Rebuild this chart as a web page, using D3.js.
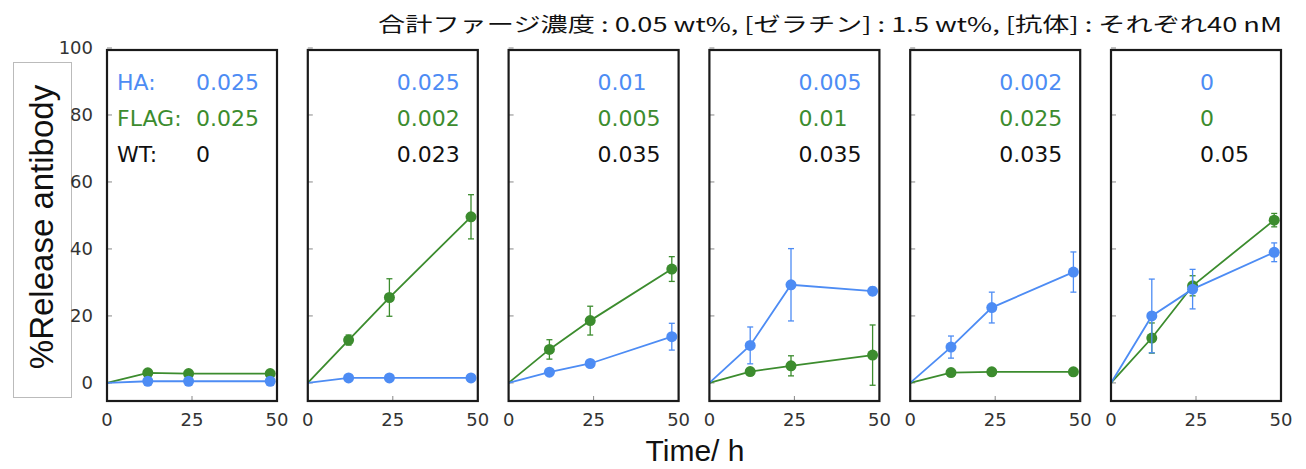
<!DOCTYPE html>
<html>
<head>
<meta charset="utf-8">
<script src="https://cdn.jsdelivr.net/npm/d3@7"></script>
<style>
  body { margin: 0; background: #fff; }
  svg { display: block; }
</style>
</head>
<body>
<script>
const svgW = 1306;
const svgH = 469;

// data
const times = [0, 12, 24, 48];
const haMeans = [
  [0, 0.5, 0.5, 0.5],
  [0, 1.5, 1.5, 1.5],
  [0, 3.2, 5.8, 13.8],
  [0, 11.2, 29.3, 27.4],
  [0, 10.7, 22.5, 33.1],
  [0, 20, 28, 39]
];
const haErr = [
  [0, 0.3, 0.3, 0.3],
  [0, 0.4, 0.4, 0.4],
  [0, 0.6, 0.6, 4],
  [0, 5.5, 10.8, 1.2],
  [0, 3.3, 4.6, 6],
  [0, 11, 5.9, 2.8]
];
const flagMeans = [
  [0, 3, 2.8, 2.8],
  [0, 12.8, 25.5, 49.6],
  [0, 10, 18.6, 34],
  [0, 3.4, 5.1, 8.3],
  [0, 3.1, 3.3, 3.3],
  [0, 13.4, 29, 48.6]
];
const flagErr = [
  [0, 0.5, 0.5, 0.5],
  [0, 1.5, 5.6, 6.6],
  [0, 2.9, 4.3, 3.7],
  [0, 0.6, 3, 9],
  [0, 0.5, 0.4, 0.4],
  [0, 4.5, 3, 2]
];
const haLabels = ['0.025', '0.025', '0.01', '0.005', '0.002', '0'];
const flagLabels = ['0.025', '0.002', '0.005', '0.01', '0.025', '0'];
const wtLabels = ['0', '0.023', '0.035', '0.035', '0.035', '0.05'];
const yTicks = [0, 20, 40, 60, 80, 100];
const xTicks = [0, 25, 50];

const blue = '#4d8cf4';
const green = '#3c8c2e';

const panelW = 170;
const panelH = 351;
const panelTop = 50;
const panelLeft0 = 107;
const panelStep = 200.8;

const svg = d3.select('body')
              .append('svg')
              .attr('width', svgW)
              .attr('height', svgH);

const x = d3.scaleLinear().domain([0, 50]).range([0, panelW]);
const y = d3.scaleLinear().domain([-5.4, 99.4]).range([panelH, 0]);

// title
svg.append('text')
   .attr('x', 378)
   .attr('y', 32)
   .attr('font-family', '"Noto Sans CJK JP", sans-serif')
   .attr('font-size', 20)
   .attr('textLength', 904)
   .attr('lengthAdjust', 'spacingAndGlyphs')
   .attr('fill', '#111')
   .text('合計ファージ濃度 : 0.05 wt%, [ゼラチン] : 1.5 wt%, [抗体] : それぞれ40 nM');

// y axis title box
svg.append('rect')
   .attr('x', 13.5).attr('y', 62.5)
   .attr('width', 58).attr('height', 335)
   .attr('fill', 'none')
   .attr('stroke', '#bbb')
   .attr('stroke-width', 1);
svg.append('text')
   .attr('transform', 'translate(53, 227) rotate(-90)')
   .attr('text-anchor', 'middle')
   .attr('font-family', '"Liberation Sans", Arial, sans-serif')
   .attr('font-size', 33)
   .attr('fill', '#111')
   .text('%Release antibody');

// x axis title
svg.append('text')
   .attr('x', 695)
   .attr('y', 461)
   .attr('text-anchor', 'middle')
   .attr('font-family', '"Liberation Sans", Arial, sans-serif')
   .attr('font-size', 30)
   .attr('fill', '#111')
   .text('Time/ h');

// y tick labels
svg.append('g')
   .selectAll('text')
   .data(yTicks)
   .enter()
   .append('text')
   .attr('x', 93)
   .attr('y', d => panelTop + y(d) + 6)
   .attr('text-anchor', 'end')
   .attr('font-family', '"DejaVu Sans", sans-serif')
   .attr('font-size', 18)
   .attr('fill', '#333')
   .text(d => d);

const line = d3.line()
               .x((d, i) => x(times[i]))
               .y(d => y(d));

const panels = d3.range(6);

panels.forEach(p => {
  const g = svg.append('g')
               .attr('transform', `translate(${panelLeft0 + p * panelStep}, ${panelTop})`);

  // ticks inside the frame
  g.selectAll('.yt')
   .data(yTicks)
   .enter()
   .append('line')
   .attr('x1', 0).attr('x2', 5)
   .attr('y1', d => y(d)).attr('y2', d => y(d))
   .attr('stroke', '#888').attr('stroke-width', 1);
  g.selectAll('.xt')
   .data(xTicks)
   .enter()
   .append('line')
   .attr('x1', d => x(d)).attr('x2', d => x(d))
   .attr('y1', panelH).attr('y2', panelH - 5)
   .attr('stroke', '#888').attr('stroke-width', 1);

  // x tick labels
  g.selectAll('.xl')
   .data(xTicks)
   .enter()
   .append('text')
   .attr('x', d => x(d))
   .attr('y', panelH + 25)
   .attr('text-anchor', 'middle')
   .attr('font-family', '"DejaVu Sans", sans-serif')
   .attr('font-size', 18)
   .attr('fill', '#333')
   .text(d => d);

  const series = [
    { means: flagMeans[p], err: flagErr[p], color: green },
    { means: haMeans[p], err: haErr[p], color: blue }
  ];

  series.forEach(s => {
    g.append('path')
     .attr('d', line(s.means))
     .attr('fill', 'none')
     .attr('stroke', s.color)
     .attr('stroke-width', 1.8);

    const pts = s.means.map((m, i) => ({ t: times[i], m: m, e: s.err[i] })).slice(1);

    const eg = g.selectAll(null)
                .data(pts)
                .enter()
                .append('g')
                .attr('stroke', s.color)
                .attr('stroke-width', 1.3);
    eg.append('line')
      .attr('x1', d => x(d.t)).attr('x2', d => x(d.t))
      .attr('y1', d => y(d.m - d.e)).attr('y2', d => y(d.m + d.e));
    eg.append('line')
      .attr('x1', d => x(d.t) - 3).attr('x2', d => x(d.t) + 3)
      .attr('y1', d => y(d.m - d.e)).attr('y2', d => y(d.m - d.e));
    eg.append('line')
      .attr('x1', d => x(d.t) - 3).attr('x2', d => x(d.t) + 3)
      .attr('y1', d => y(d.m + d.e)).attr('y2', d => y(d.m + d.e));

    g.selectAll(null)
     .data(pts)
     .enter()
     .append('circle')
     .attr('cx', d => x(d.t))
     .attr('cy', d => y(d.m))
     .attr('r', 5.5)
     .attr('fill', s.color);
  });

  // frame
  g.append('rect')
   .attr('x', 0).attr('y', 0)
   .attr('width', panelW).attr('height', panelH)
   .attr('fill', 'none')
   .attr('stroke', '#1a1a1a')
   .attr('stroke-width', 2.2);

  // concentration labels
  const rows = [
    { name: 'HA:', val: haLabels[p], color: blue },
    { name: 'FLAG:', val: flagLabels[p], color: green },
    { name: 'WT:', val: wtLabels[p], color: '#111' }
  ];
  rows.forEach((r, i) => {
    const yy = 40 + i * 36;
    if (p === 0) {
      g.append('text')
       .attr('x', 10).attr('y', yy)
       .attr('font-family', '"DejaVu Sans", sans-serif')
       .attr('font-size', 22)
       .attr('fill', r.color)
       .text(r.name);
    }
    g.append('text')
     .attr('x', 89).attr('y', yy)
     .attr('font-family', '"DejaVu Sans", sans-serif')
     .attr('font-size', 22)
     .attr('fill', r.color)
     .text(r.val);
  });
});
</script>
</body>
</html>
